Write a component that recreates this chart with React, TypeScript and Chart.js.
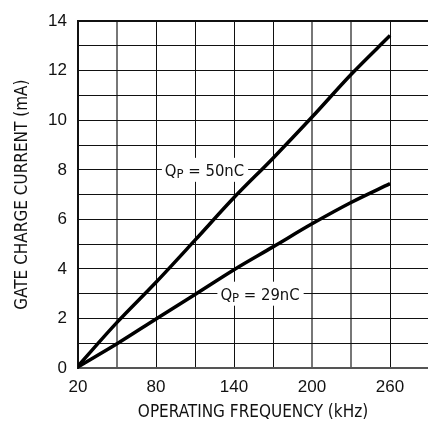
import { useEffect, useRef } from 'react';
import { Chart, registerables } from 'chart.js';

Chart.register(...registerables);

const frequencies = [20, 50, 80, 110, 140, 170, 200, 230, 260];
const current50nC = [0.08, 1.84, 3.46, 5.16, 6.88, 8.47, 10.13, 11.85, 13.42];
const current29nC = [0.05, 0.98, 1.98, 2.97, 3.97, 4.89, 5.82, 6.68, 7.44];

const xGridTicks = [20, 50, 80, 110, 140, 170, 200, 230, 260];
const xTickLabels = [20, 80, 140, 200, 260];
const yGridTicks = [0, 1, 2, 3, 4, 5, 6, 7, 8, 9, 10, 11, 12, 13, 14];
const yTickLabels = [0, 2, 4, 6, 8, 10, 12, 14];
const xGrayLines = [50, 200, 230];

const seriesCharges = ['50nC', '29nC'];
const labelFreq = [117.3, 160];
const labelCurrent = [8, 3];

const COND = "'DejaVu Sans Condensed', 'Liberation Sans', sans-serif";
const REG = "'Liberation Sans', Arial, sans-serif";

const labelPlugin = {
  id: 'qpLabels',
  beforeDatasetsDraw(chart: any) {
    const { ctx, scales } = chart;
    const x = scales.x;
    const y = scales.y;
    ctx.save();
    seriesCharges.forEach((charge, i) => {
      const cx = x.getPixelForValue(labelFreq[i]);
      const cy = y.getPixelForValue(labelCurrent[i]);
      const big = `16.5px ${COND}`;
      const small = `13px ${COND}`;
      const rest = ` = ${charge}`;
      ctx.font = big;
      const wQ = ctx.measureText('Q').width;
      const wR = ctx.measureText(rest).width;
      ctx.font = small;
      const wP = ctx.measureText('P').width;
      const total = wQ + wP + wR;
      const left = cx - total / 2;
      ctx.fillStyle = '#fff';
      ctx.fillRect(left - 3, cy - 12, total + 7, 24);
      ctx.fillStyle = '#111';
      ctx.textAlign = 'left';
      ctx.textBaseline = 'alphabetic';
      const base = cy + 6;
      ctx.font = big;
      ctx.fillText('Q', left, base);
      ctx.font = small;
      ctx.fillText('P', left + wQ, base + 2);
      ctx.font = big;
      ctx.fillText(rest, left + wQ + wP, base);
    });
    ctx.restore();
  },
};

export default function App() {
  const ref = useRef<HTMLCanvasElement | null>(null);

  useEffect(() => {
    if (!ref.current) return;
    const chart = new Chart(ref.current, {
      type: 'line',
      data: {
        datasets: [
          {
            data: frequencies.map((f, i) => ({ x: f, y: current50nC[i] })),
            borderColor: '#000',
            borderWidth: 3.5,
            pointRadius: 0,
            cubicInterpolationMode: 'monotone',
            fill: false,
          },
          {
            data: frequencies.map((f, i) => ({ x: f, y: current29nC[i] })),
            borderColor: '#000',
            borderWidth: 3.5,
            pointRadius: 0,
            cubicInterpolationMode: 'monotone',
            fill: false,
          },
        ],
      },
      options: {
        animation: false,
        responsive: false,
        devicePixelRatio: 1,
        layout: { padding: { top: 16, right: 0, left: 0, bottom: 0 } },
        plugins: { legend: { display: false }, tooltip: { enabled: false } },
        scales: {
          x: {
            type: 'linear',
            min: 20,
            max: 289.2,
            afterBuildTicks: (s: any) => {
              s.ticks = xGridTicks.map((v) => ({ value: v }));
            },
            afterFit: (s: any) => {
              s.height = 55;
            },
            ticks: {
              autoSkip: false,
              maxRotation: 0,
              padding: 9,
              color: '#111',
              font: { family: REG, size: 17 },
              callback: (v: any) => (xTickLabels.includes(Number(v)) ? String(v) : ''),
            },
            grid: {
              drawTicks: false,
              color: (c: any) => (xGrayLines.includes(c.tick?.value) ? '#777' : '#111'),
              lineWidth: (c: any) => (xGrayLines.includes(c.tick?.value) ? 2 : 1),
            },
            border: { color: '#555', width: 2 },
            title: {
              display: true,
              text: 'OPERATING FREQUENCY (kHz)',
              color: '#111',
              font: { family: COND, size: 17, lineHeight: 1 },
              padding: { top: 0, bottom: 1.5 },
            },
          },
          y: {
            type: 'linear',
            min: 0,
            max: 14,
            afterBuildTicks: (s: any) => {
              s.ticks = yGridTicks.map((v) => ({ value: v }));
            },
            afterFit: (s: any) => {
              s.width = 78;
            },
            ticks: {
              autoSkip: false,
              padding: 11,
              color: '#111',
              font: { family: REG, size: 17 },
              callback: (v: any) => (yTickLabels.includes(Number(v)) ? String(v) : ''),
            },
            grid: {
              drawTicks: false,
              color: '#111',
              lineWidth: (c: any) => (c.tick?.value === 14 ? 2 : 1),
            },
            border: { color: '#111', width: 2 },
            title: {
              display: true,
              text: 'GATE CHARGE CURRENT (mA)',
              color: '#111',
              font: { family: COND, size: 17, lineHeight: 1 },
              padding: { top: 14.5, bottom: 0 },
            },
          },
        },
      },
      plugins: [labelPlugin],
    } as any);
    return () => chart.destroy();
  }, []);

  return (
    <div style={{ position: 'fixed', left: 0, top: 0, width: 428, height: 423, background: '#fff' }}>
      <canvas ref={ref} width={428} height={423} style={{ width: 428, height: 423, display: 'block' }} />
    </div>
  );
}
